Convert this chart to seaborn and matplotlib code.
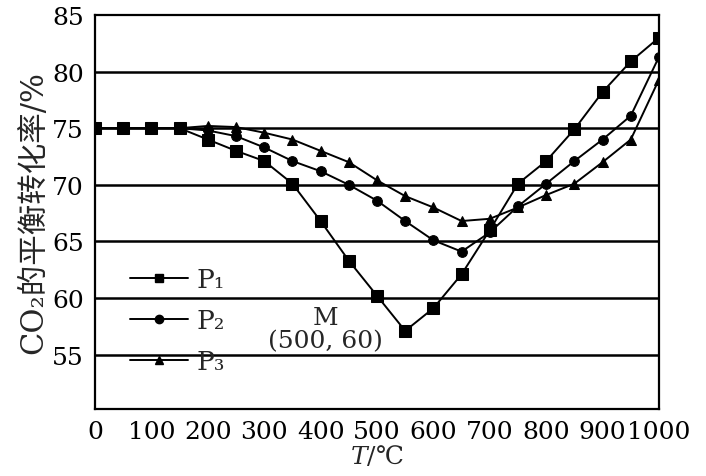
import pandas as pd
import matplotlib
matplotlib.use("Agg")
import matplotlib.pyplot as plt
import seaborn as sns
from matplotlib.lines import Line2D

# temperature (°C) and equilibrium CO2 conversion (%)
temps = [0, 50, 100, 150, 200, 250, 300, 350, 400, 450, 500,
         550, 600, 650, 700, 750, 800, 850, 900, 950, 1000]
p1 = [75, 75, 75, 75, 74.0, 73.0, 72.1, 70.1, 66.8, 63.3, 60.2,
      57.1, 59.1, 62.1, 66.0, 70.1, 72.1, 74.9, 78.2, 80.9, 83.0]
p2 = [75, 75, 75, 75, 74.8, 74.3, 73.3, 72.1, 71.2, 70.0, 68.6,
      66.8, 65.1, 64.1, 65.8, 68.1, 70.1, 72.1, 74.0, 76.1, 81.3]
p3 = [75, 75, 75, 75, 75.2, 75.1, 74.6, 74.0, 73.0, 72.0, 70.4,
      69.0, 68.0, 66.8, 67.0, 68.0, 69.1, 70.1, 72.0, 74.0, 79.3]
series_names = ["P1", "P2", "P3"]
legend_labels = ["P₁", "P₂", "P₃"]
x_ticks = list(range(0, 1001, 100))
y_ticks = [55, 60, 65, 70, 75, 80, 85]
grid_levels = [55, 60, 65, 70, 75, 80]

df = pd.concat([
    pd.DataFrame({"T": temps, "rate": vals, "P": name})
    for name, vals in zip(series_names, [p1, p2, p3])
])

sns.set_style("white")
plt.rcParams["font.family"] = ["DejaVu Serif", "Noto Sans CJK SC"]
plt.rcParams["mathtext.fontset"] = "dejavuserif"

fig = plt.figure(figsize=(7.06, 4.77), dpi=100)
ax = fig.add_axes([0.1346, 0.1405, 0.7988, 0.826])

for y in grid_levels:
    ax.axhline(y, color="black", lw=1.8, zorder=1)

markers = {"P1": "s", "P2": "o", "P3": "^"}
sizes = {"P1": 8, "P2": 7, "P3": 7}
for name in series_names:
    sub = df[df["P"] == name]
    sns.lineplot(data=sub, x="T", y="rate", ax=ax, color="black", lw=1.4,
                 marker=markers[name], markersize=sizes[name],
                 markeredgecolor="black", zorder=3)

ax.set_xlim(0, 1000)
ax.set_ylim(50.2, 85)
ax.set_xticks(x_ticks)
ax.set_yticks(y_ticks)
ax.tick_params(axis="both", direction="in", length=5, width=1.2, labelsize=18,
               colors="black")
ax.tick_params(axis="x", pad=8)
ax.tick_params(axis="y", pad=8)
for s in ax.spines.values():
    s.set_color("black")
    s.set_linewidth(1.6)

ax.set_xlabel("$T$/℃", fontsize=18, labelpad=0)
ax.set_ylabel("CO₂的平衡转化率/%", fontsize=22, labelpad=2)

ax.text(408, 58.3, "M", ha="center", va="center", fontsize=18)
ax.text(408, 56.2, "(500, 60)", ha="center", va="center", fontsize=18)

handles = [Line2D([], [], color="black", lw=1.4, marker=markers[n], markersize=6)
           for n in series_names]
leg = ax.legend(handles, legend_labels, loc="upper left",
                bbox_to_anchor=(0.02, 0.42), frameon=False, fontsize=19,
                handlelength=2.2, handletextpad=0.3, labelspacing=0.6)

fig.savefig("out.png", dpi=100)
